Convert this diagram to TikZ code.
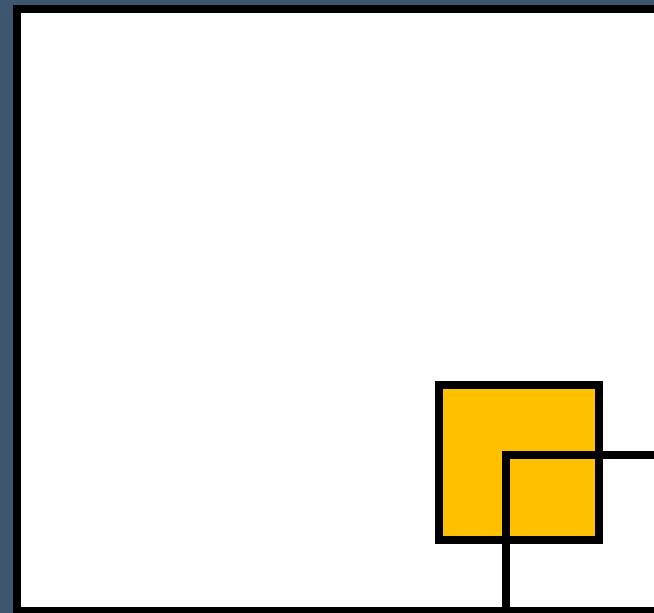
\documentclass[tikz,border=0pt]{standalone}
\usepackage{tikz}
\definecolor{slatebg}{HTML}{3E5670}
\definecolor{boxyellow}{HTML}{FFC000}
\tikzset{
	framebox/.style={
		draw=black,
		fill=white,
		line width=4pt
	},
	yellowbox/.style={
		draw=black,
		fill=boxyellow,
		line width=4pt
	},
	openbox/.style={
		draw=black,
		line width=4pt
	}
}

\begin{document}
\begin{tikzpicture}[x=0.5pt, y=-0.5pt]
		
		% Background
		\fill[slatebg] (0,0) rectangle (654,613);
		\useasboundingbox (0,0) rectangle (654,613);
		\clip (0,0) rectangle (654,613);
		
		% Outer frame
		\draw[framebox] (17,9) rectangle (720,611);
		
		% Yellow square
		\draw[yellowbox] (439,385.5) rectangle (598.5,540);
		
		% Inner frame
		\draw[openbox] (506,455) rectangle (720,720);
		
	\end{tikzpicture}
\end{document}
